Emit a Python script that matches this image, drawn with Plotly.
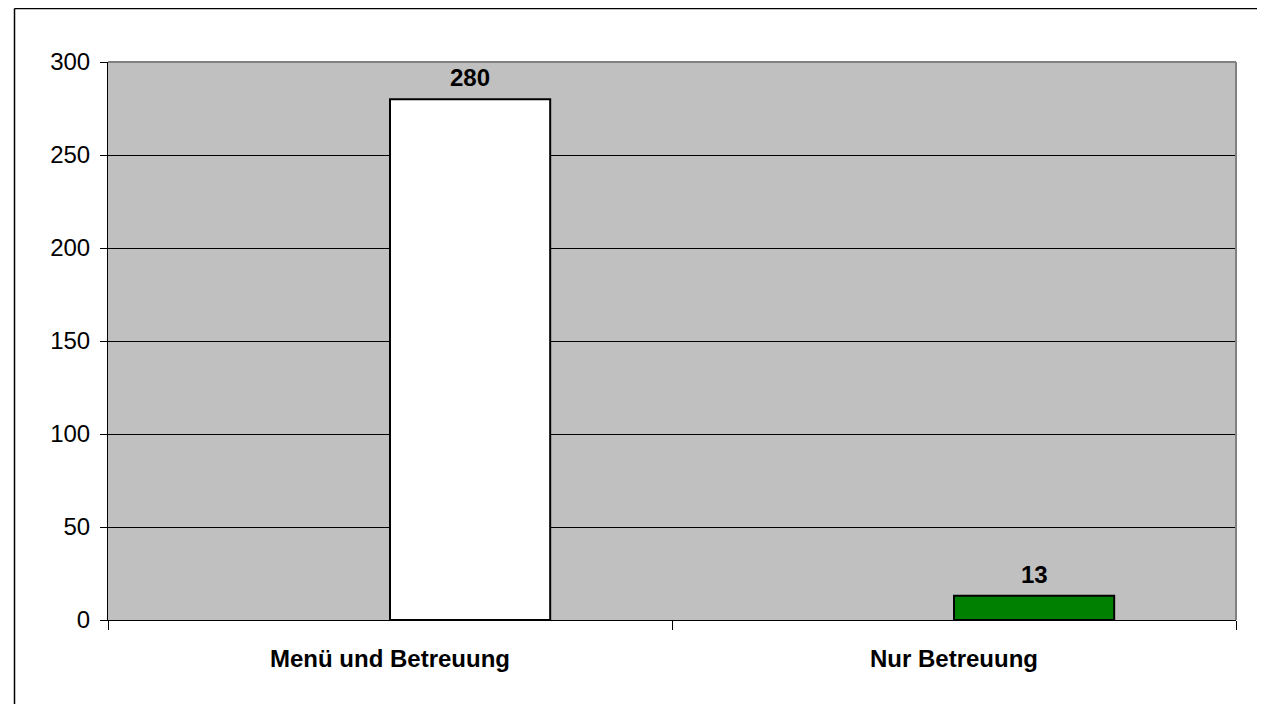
import plotly.graph_objects as go

categories = ["Menü und Betreuung", "Nur Betreuung"]
values = [280, 13]
bar_colors = ["#FFFFFF", "#008000"]
y_ticks = [0, 50, 100, 150, 200, 250, 300]

# page body has an 8px default margin; compensate
OFF = 8
W, H = 1265 - OFF, 704 - OFF
L, R, T, B = 108 - OFF, 1236 - OFF, 62 - OFF, 620 - OFF
FONT = "Liberation Sans, Arial"
FS = 24

xpos = list(range(len(categories)))
BW = 0.284

fig = go.Figure()
fig.add_trace(go.Bar(
    x=xpos, y=values, width=BW, offset=0,
    marker=dict(color=bar_colors, line=dict(color="black", width=2)),
    showlegend=False, hoverinfo="skip",
))
# invisible trace for the boundary tick axis
fig.add_trace(go.Scatter(x=[-0.5, len(categories) - 0.5], y=[0, 0], xaxis="x2",
                         mode="markers", marker=dict(opacity=0), showlegend=False, hoverinfo="skip"))

annotations = [
    dict(x=x + BW / 2, y=v, xref="x", yref="y", text=f"<b>{v}</b>", showarrow=False,
         yanchor="bottom", yshift=6, font=dict(family=FONT, size=FS, color="black"))
    for x, v in zip(xpos, values)
]

xr = [-0.5, len(categories) - 0.5]
fig.update_layout(
    width=W, height=H,
    margin=dict(l=L, r=W - R, t=T, b=H - B, pad=0),
    paper_bgcolor="white", plot_bgcolor="#C0C0C0",
    font=dict(family=FONT, size=FS, color="black"),
    annotations=annotations,
    xaxis=dict(range=xr, tickmode="array", tickvals=xpos, ticktext=categories,
               ticks="", showgrid=False, zeroline=False, showline=True, linecolor="black",
               linewidth=1, mirror=False,
               tickfont=dict(family=FONT, size=FS, weight="bold"),
               ticklabelstandoff=17),
    xaxis2=dict(range=xr, overlaying="x", side="bottom", tickmode="array",
                tickvals=[i - 0.5 for i in range(len(categories) + 1)],
                showticklabels=False, ticks="outside", ticklen=9, tickcolor="black",
                showgrid=False, zeroline=False, showline=False),
    yaxis=dict(range=[0, 300], tickmode="array", tickvals=y_ticks,
               ticks="outside", ticklen=7, tickcolor="black",
               showgrid=True, gridcolor="black", gridwidth=1,
               zeroline=False, showline=True, linecolor="black", linewidth=1,
               tickfont=dict(family=FONT, size=FS),
               ticklabelstandoff=5),
    shapes=[
        dict(type="line", xref="paper", yref="paper", x0=0, x1=1, y0=1, y1=1,
             line=dict(color="#808080", width=2)),
        dict(type="line", xref="paper", yref="paper", x0=1, x1=1, y0=0, y1=1,
             line=dict(color="#808080", width=2)),
        # outer chart border (top and left)
        dict(type="line", xref="paper", yref="paper",
             x0=(14.5 - OFF - L) / (R - L), x1=(W + 5 - L) / (R - L),
             y0=(B - (8.5 - OFF)) / (B - T), y1=(B - (8.5 - OFF)) / (B - T),
             line=dict(color="black", width=1.5)),
        dict(type="line", xref="paper", yref="paper",
             x0=(14.5 - OFF - L) / (R - L), x1=(14.5 - OFF - L) / (R - L),
             y0=(B - (8.5 - OFF)) / (B - T), y1=(B - H - 5) / (B - T),
             line=dict(color="black", width=1.5)),
    ],
)

fig.write_html("out.html")
